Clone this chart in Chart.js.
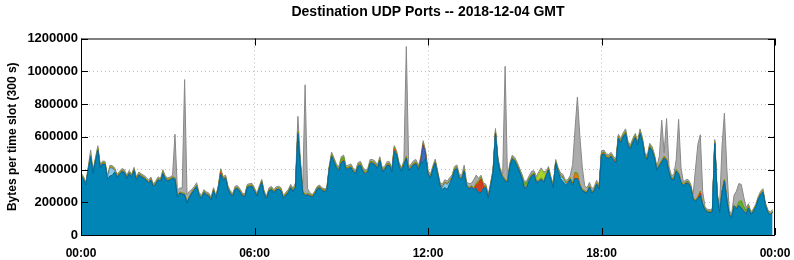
<!DOCTYPE html>
<html>
<head>
<meta charset="utf-8">
<title>Destination UDP Ports</title>
<script src="https://cdn.jsdelivr.net/npm/chart.js@4.4.0/dist/chart.umd.min.js"></script>
<style>
    html, body { margin: 0; padding: 0; background: #fff; }
    #wrap { width: 794px; height: 260px; }
</style>
</head>
<body>
<div id="wrap"><canvas id="udpChart" width="794" height="260"></canvas></div>
<script>
// 5 minute slots over 2018-12-04, values in kB per slot
const slotMinutes = Array.from({ length: 288 }, (_, i) => i * 5);
const xTicks = [0, 360, 720, 1080, 1440];
const yTicks = [0, 200000, 400000, 600000, 800000, 1000000, 1200000];

const blueK = [
    360,340,305,395,478,378,450,519,409,433,430,340,
    360,365,385,352,370,387,380,346,375,352,393,336,
    366,355,346,334,316,335,295,310,336,326,375,340,
    330,335,346,340,232,255,250,245,195,230,255,275,
    295,240,224,258,245,238,214,270,224,285,372,336,
    346,280,250,238,280,282,262,238,234,290,295,296,
    268,238,280,320,250,222,268,278,258,275,279,270,
    224,242,258,288,265,290,621,430,260,240,245,238,
    232,250,280,288,271,266,270,400,480,445,410,395,
    440,455,400,405,412,385,375,420,425,385,372,385,
    438,438,428,405,455,390,397,425,425,385,510,490,
    420,390,430,470,395,410,428,435,400,440,445,470,
    370,348,400,440,370,300,278,290,278,315,345,395,
    405,345,340,390,300,280,292,278,285,258,260,285,
    290,225,300,380,621,450,380,350,330,320,420,465,
    450,420,385,345,285,290,335,360,370,320,325,340,
    320,360,397,336,290,440,390,345,325,305,315,340,
    305,345,345,300,270,262,255,292,255,272,310,280,
    490,495,470,468,480,455,440,590,565,600,620,545,
    525,565,595,550,620,570,480,460,535,515,468,395,
    420,445,470,455,380,340,336,390,370,320,298,316,
    316,290,220,205,225,240,185,152,140,136,142,560,
    240,135,260,330,215,125,105,175,160,180,165,145,
    130,165,125,142,170,215,245,262,180,140,122,138
];

const orangeK = [
    5,5,4,5,6,5,6,6,5,5,5,5,
    5,5,5,5,5,5,5,5,5,5,6,5,
    5,5,5,5,5,5,4,5,5,5,6,5,
    5,5,5,6,4,4,4,5,4,4,5,5,
    5,5,4,5,5,5,4,5,4,5,8,6,
    6,5,5,4,5,5,5,4,4,5,5,5,
    5,4,5,6,5,4,5,5,5,5,5,5,
    4,5,5,5,5,5,8,6,5,4,5,5,
    4,5,5,5,5,5,5,6,6,6,5,5,
    6,6,5,5,5,5,5,6,6,5,5,5,
    6,6,6,5,6,5,5,6,6,5,8,6,
    5,5,6,6,5,5,6,6,5,6,6,6,
    5,5,6,6,5,5,4,4,4,5,5,6,
    6,5,5,6,5,5,5,5,5,5,5,5,
    5,4,5,6,8,6,5,5,5,5,6,6,
    6,6,5,5,5,5,5,5,5,5,5,5,
    5,5,6,5,5,6,5,5,5,5,5,5,
    5,30,25,6,5,5,4,5,4,5,5,5,
    6,6,6,6,6,6,6,7,7,7,7,7,
    7,7,7,7,7,7,6,6,7,7,6,6,
    6,6,6,6,5,5,5,5,5,5,5,5,
    5,5,4,4,4,8,4,4,4,4,4,6,
    4,3,4,5,4,3,3,4,4,4,4,4,
    3,4,3,4,4,4,5,5,4,3,3,3
];

const greenK = [
    4,4,4,4,5,4,5,5,4,4,4,4,
    4,4,4,4,4,4,4,4,4,4,4,4,
    4,4,4,4,4,4,4,4,4,4,5,4,
    4,4,4,4,3,3,3,4,3,3,4,4,
    4,4,3,4,4,4,3,4,3,4,5,4,
    4,4,4,3,4,4,4,3,3,4,4,4,
    4,3,4,4,4,3,4,4,4,4,4,4,
    3,4,4,4,4,4,6,5,4,3,4,4,
    3,4,4,4,4,4,4,5,8,8,6,5,
    20,15,5,5,5,5,5,5,6,12,6,5,
    5,5,5,5,5,5,5,5,5,5,6,5,
    5,5,5,5,5,5,5,5,5,5,5,5,
    5,5,5,5,5,4,4,4,4,4,5,5,
    5,5,5,5,4,4,4,4,6,8,8,5,
    4,4,4,5,6,5,5,5,5,5,5,5,
    5,5,5,10,25,25,10,5,5,5,5,5,
    5,5,5,5,5,5,5,5,5,5,5,5,
    5,8,8,5,4,4,4,4,4,4,4,4,
    6,6,6,6,6,6,6,6,6,6,6,6,
    6,6,6,6,6,6,6,6,6,6,6,5,
    5,5,5,5,5,5,5,5,5,5,5,5,
    5,5,4,4,4,5,4,4,4,4,4,5,
    4,3,4,4,4,3,3,4,4,20,40,25,
    15,10,4,4,4,4,4,4,4,3,3,3
];

const grayK = [
    10,10,8,12,30,10,12,15,10,10,10,12,
    12,10,10,10,10,10,10,10,10,10,10,10,
    10,10,10,10,10,10,10,10,10,10,12,10,
    10,10,10,265,35,25,30,695,45,30,15,12,
    15,12,10,10,10,10,10,10,10,10,12,10,
    10,10,10,10,10,10,10,10,10,10,10,10,
    10,10,10,10,10,10,10,10,10,10,10,10,
    10,10,10,12,10,20,90,30,15,670,30,10,
    8,8,8,8,8,8,8,10,12,12,12,12,
    12,12,12,12,12,12,12,12,12,12,12,12,
    12,12,12,12,12,12,12,12,12,12,12,12,
    12,12,12,670,15,12,15,15,12,15,15,15,
    15,12,12,12,12,12,15,15,15,15,12,12,
    12,15,15,25,15,25,15,50,50,15,12,12,
    12,15,12,12,15,12,12,12,690,12,12,12,
    12,12,12,12,12,12,12,20,12,12,12,10,
    10,10,10,10,10,10,10,15,15,12,12,12,
    115,260,465,295,140,30,25,20,20,15,15,15,
    12,12,12,12,12,12,12,12,12,12,15,12,
    12,12,12,12,15,12,12,12,12,12,12,10,
    50,245,20,245,30,15,20,60,326,80,15,12,
    12,12,15,190,320,344,70,10,10,10,10,12,
    15,30,270,405,190,20,15,60,100,110,100,60,
    20,12,10,10,10,10,12,12,10,10,10,12
];

// occasional small layers: [slot, kB]
const lightBlueK = [[12,45],[13,40],[14,5],[150,10],[151,25],[152,28],[153,10],[199,10],[200,20],[201,8]];
const royalK = [[141,10],[142,105],[143,20]];
const redK = [[58,8],[130,10],[164,20],[165,60],[166,80],[167,10],[257,15]];
const limeK = [[189,15],[190,40],[191,50],[192,45],[193,10]];

(function() {
    const toBytes = arr => arr.map(v => v * 1000);
    function fromPairs(pairs) {
        const out = slotMinutes.map(() => 0);
        pairs.forEach(([slot, v]) => { out[slot] = v * 1000; });
        return out;
    }

    function layer(label, data, fillColor, lineColor, first) {
        return {
            label: label,
            data: data,
            backgroundColor: fillColor,
            borderColor: lineColor,
            borderWidth: 1,
            pointRadius: 0,
            tension: 0,
            fill: first ? 'origin' : '-1'
        };
    }

    const fmtTime = v => String(Math.floor((v % 1440) / 60)).padStart(2, '0') + ':00';

    const framePlugin = {
        id: 'frame',
        afterDraw(chart) {
            const { ctx, chartArea: a, scales: { x, y } } = chart;
            ctx.save();
            ctx.strokeStyle = '#000';
            ctx.lineWidth = 1;
            ctx.strokeRect(a.left + 0.5, a.top + 0.5, a.right - a.left - 1, a.bottom - a.top);
            ctx.beginPath();
            y.ticks.forEach(t => {
                const py = Math.round(y.getPixelForValue(t.value)) + 0.5;
                ctx.moveTo(a.left, py); ctx.lineTo(a.left + 7, py);
                ctx.moveTo(a.right, py); ctx.lineTo(a.right - 7, py);
            });
            x.ticks.forEach(t => {
                const px = Math.round(x.getPixelForValue(t.value)) + 0.5;
                ctx.moveTo(px, a.top); ctx.lineTo(px, a.top + 7);
                ctx.moveTo(px, a.bottom); ctx.lineTo(px, a.bottom - 7);
            });
            ctx.stroke();
            ctx.restore();
        }
    };

    const gridColor = c => (c.index === 0 || c.index === c.scale.ticks.length - 1) ? 'rgba(0,0,0,0)' : '#bcbcbc';

    Chart.defaults.font.family = '"Liberation Sans", Arial, Helvetica, sans-serif';
    Chart.defaults.color = '#000';

    new Chart(document.getElementById('udpChart').getContext('2d'), {
        type: 'line',
        data: {
            labels: slotMinutes,
            datasets: [
                layer('other blue', toBytes(blueK), '#0085b6', '#00668e', true),
                layer('light blue', fromPairs(lightBlueK), '#8ccbe8', '#6fb6d8'),
                layer('royal', fromPairs(royalK), '#3c6ec6', '#2f5aa8'),
                layer('red', fromPairs(redK), '#d4401e', '#c03418'),
                layer('orange', toBytes(orangeK), '#e67c10', '#d46e08'),
                layer('green', toBytes(greenK), '#66ae2e', '#579a26'),
                layer('lime', fromPairs(limeK), '#a8d42a', '#94c020'),
                layer('other', toBytes(grayK), '#ababab', '#888888')
            ]
        },
        options: {
            responsive: false,
            animation: false,
            events: [],
            layout: { padding: { left: 0, right: 19, top: 0, bottom: 0 } },
            plugins: {
                legend: { display: false },
                tooltip: { enabled: false },
                title: {
                    display: true,
                    fullSize: false,
                    text: 'Destination UDP Ports -- 2018-12-04 GMT',
                    font: { size: 14, weight: 'bold' },
                    padding: { top: 4, bottom: 17.7 }
                }
            },
            scales: {
                x: {
                    type: 'linear',
                    min: 0,
                    max: 1440,
                    afterBuildTicks: s => { s.ticks = xTicks.map(v => ({ value: v })); },
                    afterFit: s => { s.height = 25; },
                    ticks: { callback: fmtTime, maxRotation: 0, padding: 1, font: { size: 12, weight: 'bold' } },
                    grid: { color: gridColor, drawTicks: true, tickLength: 10, tickColor: 'rgba(0,0,0,0)' },
                    border: { display: false, dash: [1, 3] }
                },
                y: {
                    stacked: true,
                    min: 0,
                    max: 1200000,
                    afterBuildTicks: s => { s.ticks = yTicks.map(v => ({ value: v })); },
                    afterFit: s => { s.width = 81; },
                    ticks: { callback: v => String(v), padding: 3, font: { size: 13, weight: 'bold' } },
                    grid: { color: gridColor, drawTicks: false },
                    border: { display: false, dash: [1, 3] },
                    title: {
                        display: true,
                        text: 'Bytes per time slot (300 s)',
                        font: { size: 12, weight: 'bold' },
                        padding: { top: 5, bottom: 0 }
                    }
                }
            }
        },
        plugins: [framePlugin]
    });
})();
</script>
</body>
</html>
